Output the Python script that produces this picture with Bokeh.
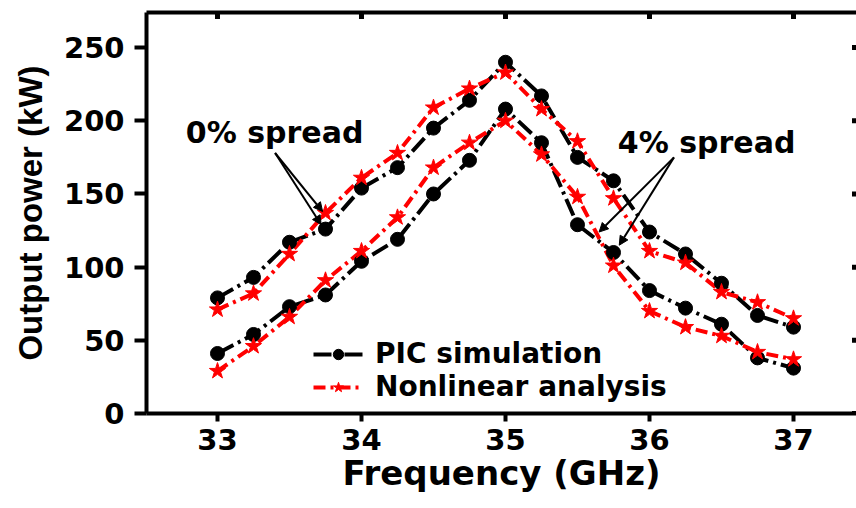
import math
from bokeh.plotting import figure
from bokeh.models import (Range1d, LinearAxis, FixedTicker, Legend, LegendItem,
                          Arrow, NormalHead, Label)
from bokeh.embed import file_html
from bokeh.resources import INLINE

# ---- data ----
freq = [33.0, 33.25, 33.5, 33.75, 34.0, 34.25, 34.5, 34.75, 35.0,
        35.25, 35.5, 35.75, 36.0, 36.25, 36.5, 36.75, 37.0]
pic_0 = [79, 93, 117, 126, 154, 168, 195, 214, 240, 217, 175, 159, 124, 109, 89, 67, 59]
nla_0 = [71, 82, 109, 137, 161, 178, 209, 222, 233, 208, 186, 147, 111, 103, 83, 76, 65]
pic_4 = [41, 54, 73, 81, 104, 119, 150, 173, 208, 185, 129, 110, 84, 72, 61, 38, 31]
nla_4 = [29, 46, 66, 91, 111, 134, 168, 185, 200, 177, 148, 101, 70, 59, 53, 42, 37]
x_ticks = [33, 34, 35, 36, 37]
y_ticks = [0, 50, 100, 150, 200, 250]
series_labels = ["PIC simulation", "Nonlinear analysis"]
spread_labels = ["0% spread", "4% spread"]
spread_label_pos = [(32.78, 192), (35.78, 185)]
arrow_tails = [(33.40, 178), (33.40, 178), (36.17, 175), (36.17, 175)]
arrow_tips = [(33.73, 138), (33.72, 129), (35.65, 124), (35.79, 115)]

X_START, X_END = 32.507, 37.4375
Y_START, Y_END = 0, 274

BOLD_WIDE = "DejaVu Sans"

p = figure(width=856, height=500,
           x_range=Range1d(X_START, X_END), y_range=Range1d(Y_START, Y_END),
           x_axis_type=None, y_axis_type=None,
           output_backend="svg", toolbar_location=None,
           min_border_left=146, min_border_right=0,
           min_border_top=12, min_border_bottom=87)
p.outline_line_color = None
p.background_fill_color = "white"
p.border_fill_color = "white"


def style_axis(ax, ticks, tick_out):
    ax.ticker = FixedTicker(ticks=ticks)
    ax.axis_line_width = 4
    ax.axis_line_color = "black"
    ax.major_tick_line_width = 4
    ax.major_tick_line_color = "black"
    ax.major_tick_out = tick_out
    ax.major_tick_in = 0
    ax.minor_tick_out = 0
    ax.minor_tick_in = 0
    ax.major_label_text_font = BOLD_WIDE
    ax.major_label_text_font_style = "bold"
    ax.major_label_text_font_size = "29px"
    ax.major_label_text_color = "black"


yl = LinearAxis(axis_label="Output power (kW)")
style_axis(yl, y_ticks, 12)
yl.major_label_standoff = 10
yl.axis_label_text_font = "Liberation Sans"
yl.axis_label_text_font_style = "bold"
yl.axis_label_text_font_size = "33px"
yl.axis_label_text_color = "black"
yl.axis_label_standoff = 12
p.add_layout(yl, "left")

xb = LinearAxis(axis_label="Frequency (GHz)")
style_axis(xb, x_ticks, 8)
xb.major_label_standoff = 7
xb.axis_label_text_font = BOLD_WIDE
xb.axis_label_text_font_style = "bold"
xb.axis_label_text_font_size = "34px"
xb.axis_label_text_color = "black"
xb.axis_label_standoff = 0
p.add_layout(xb, "below")

# top border: an axis line with no ticks / labels
xt = LinearAxis(ticker=FixedTicker(ticks=[]), axis_line_width=4,
                axis_line_color="black", major_label_standoff=0,
                major_tick_out=0, major_tick_in=0,
                minor_tick_out=0, minor_tick_in=0)
p.add_layout(xt, "above")

# inward tick marks along the top and right edges
p.scatter(x_ticks, [Y_END] * len(x_ticks), marker="dash", angle=math.pi / 2,
          size=13, line_color="black", line_width=5)
p.scatter([X_END] * len(y_ticks), y_ticks, marker="dash",
          size=9, line_color="black", line_width=5)

# ---- series ----
BLACK_DASH = "18 5 3 5"
RED_DASH = "12 5 3 5"

l_pic0 = p.line(freq, pic_0, line_color="black", line_width=4, line_dash=BLACK_DASH)
l_pic4 = p.line(freq, pic_4, line_color="black", line_width=4, line_dash=BLACK_DASH)
l_nla0 = p.line(freq, nla_0, line_color="#ff0000", line_width=4, line_dash=RED_DASH)
l_nla4 = p.line(freq, nla_4, line_color="#ff0000", line_width=4, line_dash=RED_DASH)
s_pic0 = p.scatter(freq, pic_0, marker="circle", size=14, fill_color="black", line_color="black")
s_pic4 = p.scatter(freq, pic_4, marker="circle", size=14, fill_color="black", line_color="black")
s_nla0 = p.scatter(freq, nla_0, marker="star", size=17, fill_color="#ff0000", line_color="#ff0000")
s_nla4 = p.scatter(freq, nla_4, marker="star", size=17, fill_color="#ff0000", line_color="#ff0000")

legend = Legend(items=[
    LegendItem(label=series_labels[0], renderers=[l_pic0, s_pic0]),
    LegendItem(label=series_labels[1], renderers=[l_nla0, s_nla0]),
], location=(167, 10))
legend.border_line_color = None
legend.background_fill_alpha = 0
legend.padding = 0
legend.margin = 0
legend.spacing = -7
legend.glyph_width = 50
legend.glyph_height = 26
legend.label_height = 26
legend.label_standoff = 12
legend.label_text_font = BOLD_WIDE
legend.label_text_font_style = "bold"
legend.label_text_font_size = "28px"
legend.label_text_color = "black"
legend.label_text_baseline = "middle"
p.add_layout(legend, "center")

# ---- annotations ----
for txt, (lx, ly) in zip(spread_labels, spread_label_pos):
    p.add_layout(Label(x=lx, y=ly, text=txt, text_font=BOLD_WIDE,
                       text_font_style="bold", text_font_size="30px",
                       text_color="black", text_align="left",
                       text_baseline="middle"))

for (x0, y0), (x1, y1) in zip(arrow_tails, arrow_tips):
    p.add_layout(Arrow(x_start=x0, y_start=y0, x_end=x1, y_end=y1,
                       line_color="black", line_width=2,
                       end=NormalHead(size=9, fill_color="black",
                                      line_color="black", line_width=1)))

open("out.html", "w").write(file_html(p, INLINE))
